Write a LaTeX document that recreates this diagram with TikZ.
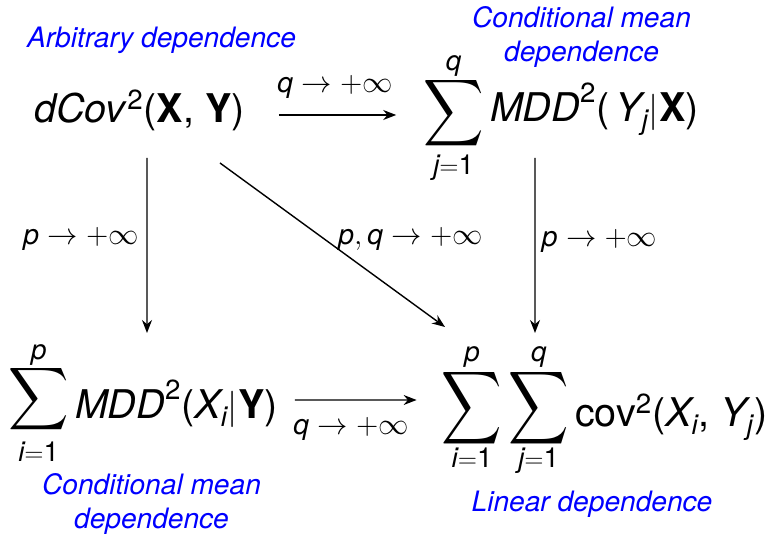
\documentclass[tikz,border=0pt]{standalone}
\usepackage{amsmath}
\usepackage{graphicx}
\usepackage{fontspec}
\setmainfont{TeX Gyre Heros}
\usetikzlibrary{arrows.meta}
% sum sign: vertical scale, raise, gap above, gap below
\newcommand{\bigsum}[4]{\mathop{\raisebox{#2}{\raisebox{0pt}[\dimexpr\height+#3\relax][\dimexpr\depth+#4\relax]{$\vcenter{\hbox{\scalebox{1.15}[#1]{$\displaystyle\sum$}}}$}}}\limits}

\begin{document}
\begin{tikzpicture}[arr/.style={-{Stealth[length=2.6mm, width=2mm]}, line width=0.8pt}, expr/.style={font=\fontsize{22.5}{27}\selectfont, anchor=base}, lim/.style={font=\fontsize{16}{19}\selectfont, anchor=base}, note/.style={font=\fontsize{16}{19}\selectfont\itshape, text=blue, align=center}]

\useasboundingbox (0,0) rectangle (15.3,10.68);
% the four quantities
\node[expr] (dcov) at (2.79,8.22) {\textit{dCov}$^{\text{2}}$(\textbf{X}, \textbf{Y})};
\node[expr] (mddy) at (11.22,8.24) {$\bigsum{1.28}{0pt}{-2.6pt}{-0.9pt}_{\textit{j}=\text{1}}^{\textit{q}}\textit{MDD}^{\text{2}}\text{(}\,\textit{Y}_{\textit{j}}|\textbf{X}\text{)}$};
\node[expr] (mddx) at (2.86,2.30) {$\bigsum{1.2}{6pt}{-2.8pt}{1.1pt}_{\textit{i}=\text{1}}^{\textit{p}}\textit{MDD}^{\text{2}}\text{(}\textit{X}_{\textit{i}}|\textbf{Y}\text{)}$};
\node[expr] (lin) at (12.09,2.14) {$\bigsum{1.4}{5.4pt}{-2.3pt}{-4pt}_{\textit{i}=\text{1}}^{\textit{p}}\bigsum{1.4}{5.4pt}{-2.3pt}{-4pt}_{\textit{j}=\text{1}}^{\textit{q}}\text{cov}^{\text{2}}\text{(}\textit{X}_{\textit{i}}\text{, }\textit{Y}_{\textit{j}}\text{)}$};

% kinds of dependence
\node[note, anchor=base] (arb) at (3.23,9.72) {Arbitrary dependence};
\node[note] (cmtop) at (11.63,9.94) {Conditional mean\\dependence};
\node[note] (cmbot) at (3.03,0.60) {Conditional mean\\dependence};
\node[note, anchor=base] (lindep) at (11.84,0.44) {Linear dependence};

% limits
\draw[arr] ([shift={(0.56,0.16)}]dcov.base east) -- ([shift={(-0.42,0.14)}]mddy.base west);
\draw[arr] ([shift={(0.15,-0.7)}]dcov.base) -- ([shift={(0.08,1.72)}]mddx.base);
\draw[arr] ([shift={(1.61,-0.8)}]dcov.base) -- ([shift={(-3.19,2.0)}]lin.base);
\draw[arr] ([shift={(-0.52,-0.72)}]mddy.base) -- ([shift={(-1.39,1.88)}]lin.base);
\draw[arr] ([shift={(0.22,0.38)}]mddx.base east) -- ([shift={(-0.38,0.54)}]lin.base west);

\node[lim] (ltop) at (6.70,8.82) {$\textit{q}\rightarrow+\infty$};
\node[lim] (lleft) at (1.62,5.78) {$\textit{p}\rightarrow+\infty$};
\node[lim] (ldiag) at (8.21,5.78) {$\textit{p},\textit{q}\rightarrow+\infty$};
\node[lim] (lright) at (11.99,5.74) {$\textit{p}\rightarrow+\infty$};
\node[lim] (lbot) at (7.02,1.98) {$\textit{q}\rightarrow+\infty$};
\end{tikzpicture}
\end{document}
